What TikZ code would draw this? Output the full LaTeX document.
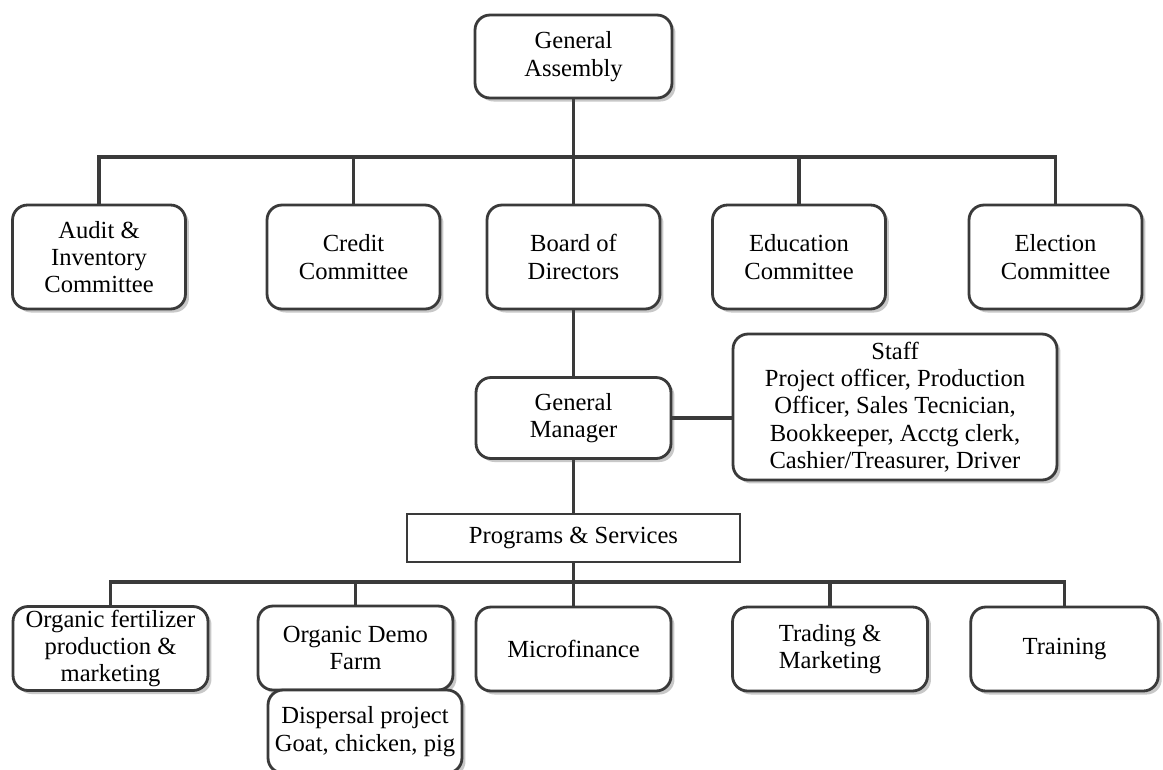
\documentclass[tikz,border=0pt]{standalone}
\usepackage{fontspec}
\setmainfont{Liberation Serif}
\usetikzlibrary{positioning, shadows, backgrounds}

\definecolor{linegray}{HTML}{3A3A3A}

\begin{document}
\begin{tikzpicture}[
  x=0.02cm, y=-0.02cm,
  font=\fontsize{14}{15.5}\selectfont,
  every node/.style={align=center, text=black},
  unit/.style={draw=linegray, line width=1.6pt, rounded corners=0.3cm,
               fill=white, inner sep=0pt,
               drop shadow={shadow xshift=0.7mm, shadow yshift=-0.7mm,
                            opacity=0.3, fill=black!70}},
  commit/.style={unit, minimum width=3.46cm, minimum height=2.08cm},
  prog/.style={unit, minimum width=3.9cm, minimum height=1.68cm},
  band/.style={draw=linegray, line width=0.9pt, fill=white, inner sep=0pt,
               minimum width=6.66cm, minimum height=0.96cm},
  link/.style={draw=linegray, line width=2.2pt}
]
\useasboundingbox (0,0) rectangle (1163,769);

% top
\node[unit, minimum width=3.94cm, minimum height=1.66cm] (assembly) at (573.5,56.5) {General\\Assembly};

% committees
\node[commit] (audit)     at (99,257)    {Audit \&\\Inventory\\Committee};
\node[commit] (credit)    at (353.5,257) {Credit\\Committee};
\node[commit] (board)     at (573.5,257) {Board of\\Directors};
\node[commit] (education) at (799,257)   {Education\\Committee};
\node[commit] (election)  at (1055.5,257) {Election\\Committee};

% management
\node[unit, minimum width=3.9cm, minimum height=1.62cm] (manager) at (573.5,418) {General\\Manager};
\node[unit, minimum width=6.48cm, minimum height=2.92cm] (staff) at (895,407)
  {Staff\\Project officer, Production\\Officer, Sales Tecnician,\\Bookkeeper, Acctg clerk,\\Cashier/Treasurer, Driver};
\node[band] (programs) at (573.5,538) {Programs \& Services};

% programs
\node[prog] (fertilizer) at (110.5,648.5) {Organic fertilizer\\production \&\\marketing};
\node[prog] (demofarm)   at (355.5,648)   {Organic Demo\\Farm};
\node[prog] (microfin)   at (573.5,649)   {Microfinance};
\node[prog] (trading)    at (830,649)     {Trading \&\\Marketing};
\node[prog, minimum width=3.75cm] (training) at (1064.5,649) {Training};
\node[unit, minimum width=3.88cm, minimum height=1.66cm] (dispersal) at (365,731.5)
  {Dispersal project\\Goat, chicken, pig};

\coordinate (bar1) at (573.5,157);
\coordinate (bar2) at (573.5,582);

\begin{scope}[on background layer]
\fill[white] (0,0) rectangle (1163,769);
\draw[link] (assembly) -- (board);
\draw[link] (audit.north) |- (bar1) -| (election.north);
\draw[link] (credit.north) -- (credit.north |- bar1);
\draw[link] (education.north) -- (education.north |- bar1);
\draw[link] (board) -- (manager);
\draw[link] (manager.east) -- (manager.east -| staff.west);
\draw[link] (manager) -- (programs);
\draw[link] (programs) -- (microfin);
\draw[link] (fertilizer.north) |- (bar2) -| (training.north);
\draw[link] (demofarm.north) -- (demofarm.north |- bar2);
\draw[link] (trading.north) -- (trading.north |- bar2);
\end{scope}

\end{tikzpicture}
\end{document}
